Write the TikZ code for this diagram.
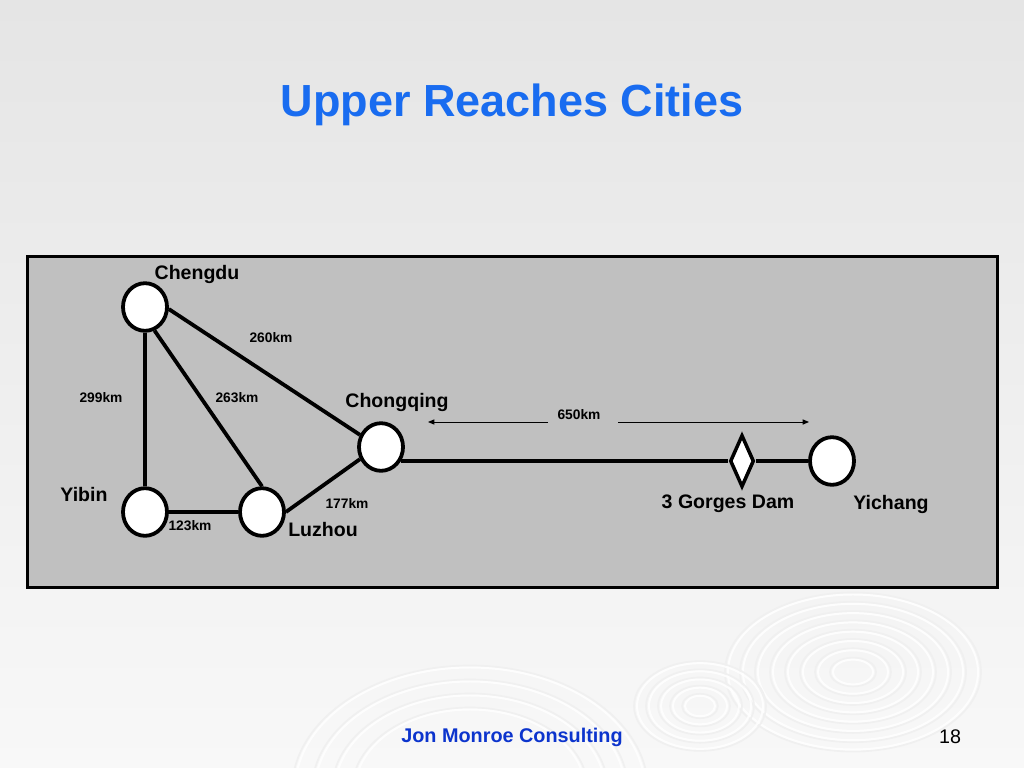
\documentclass[tikz,border=0pt]{standalone}
\usepackage{fontspec}
\setmainfont{Liberation Sans}
\usetikzlibrary{arrows.meta,positioning,shapes.geometric}
\definecolor{titleblue}{RGB}{25,108,240}
\definecolor{footblue}{RGB}{12,52,205}
\definecolor{panelgray}{RGB}{192,192,192}
\newcommand{\fsz}[1]{\fontsize{#1}{#1}\selectfont}

\begin{document}
\begin{tikzpicture}[x=0.025cm, y=-0.025cm,
    city/.style={ellipse, draw, line width=2.7pt, fill=white, minimum width=1.1cm, minimum height=1.19cm, inner sep=0pt},
    cityname/.style={font=\fsz{13.9}\bfseries},
    dist/.style={font=\fsz{9.8}\bfseries},
    edge/.style={line width=2.7pt},
    dimarrow/.style={-{Triangle[length=1.6mm, width=1.3mm]}, line width=0.7pt},
    ripple/.style={draw=white, line width=1.4pt, opacity=0.85},
    ripplegray/.style={draw=black!6, line width=1.2pt}
]
    % Slide background
    \shade[top color={rgb,255:red,229;green,229;blue,229}, bottom color={rgb,255:red,248;green,248;blue,248}]
        (0,0) rectangle (1024,768);
    \useasboundingbox (0,0) rectangle (1024,768);
    \begin{scope}
        \clip (0,0) rectangle (1024,768);
        \foreach \r in {20,35,...,125} {
            \draw[ripplegray] (853,672) circle[x radius=\r+3, y radius=0.62*\r+2];
            \draw[ripple] (853,672) circle[x radius=\r, y radius=0.62*\r];
        }
        \foreach \r in {15,27,...,72} {
            \draw[ripplegray] (700,706) circle[x radius=\r+3, y radius=0.68*\r+2];
            \draw[ripple] (700,706) circle[x radius=\r, y radius=0.68*\r];
        }
        \foreach \r in {115,135,...,175} {
            \draw[ripplegray] (470,790) circle[x radius=\r+3, y radius=0.7*\r+2];
            \draw[ripple] (470,790) circle[x radius=\r, y radius=0.7*\r];
        }
    \end{scope}

    % Title
    \node[font=\fsz{32}\bfseries, text=titleblue, anchor=base] (title) at (512,117) {Upper Reaches Cities};

    % Map panel
    \draw[line width=2.5pt, fill=panelgray] (27.5,256.5) rectangle (997.5,587.5);

    % Cities
    \node[city] (cd) at (145,307) {};
    \node[city] (yb) at (145,512) {};
    \node[city] (lz) at (262,512) {};
    \node[city] (cq) at (381,447) {};
    \node[city] (yc) at (832,461) {};
    \node[diamond, draw, line width=2.5pt, fill=white, inner sep=0pt, minimum width=0.6cm, minimum height=1.3cm] (dam) at (742,461) {};

    % City names
    \node[cityname] (cdname) at (197,274) {Chengdu};
    \node[cityname] (cqname) at (397,402) {Chongqing};
    \node[cityname] (ybname) at (84,495) {Yibin};
    \node[cityname] (lzname) at (323,530) {Luzhou};
    \node[cityname] (damname) at (728,504) {3 Gorges Dam};
    \node[cityname] (ycname) at (891,504) {Yichang};

    % Roads
    \draw[edge] (cd) -- (yb);
    \draw[edge] (cd.-68) -- (lz.north);
    \draw[edge] (cd.-5) -- (cq.150);
    \draw[edge] (yb) -- (lz);
    \draw[edge] (lz.east) -- (cq.210);
    \draw[edge] (dam.west -| cq.-35) -- (dam.west);
    \draw[edge] (dam.east) -- (yc.west);

    % Distances
    \node[dist] (d260) at (271,338) {260km};
    \node[dist] (d299) at (101,398) {299km};
    \node[dist] (d263) at (237,398) {263km};
    \node[dist] (d177) at (347,504) {177km};
    \node[dist] (d123) at (190,526) {123km};
    \node[dist] (d650) at (579,415) {650km};

    % River length arrows
    \coordinate (al) at (548,422);
    \coordinate (altip) at (428,422);
    \coordinate (ar) at (618,422);
    \coordinate (artip) at (809,422);
    \draw[dimarrow] (al) -- (altip);
    \draw[dimarrow] (ar) -- (artip);

    % Footer
    \node[font=\fsz{14.1}\bfseries, text=footblue] (footer) at (512,737) {Jon Monroe Consulting};
    \node[font=\fsz{14}] (pageno) at (950,737) {18};
\end{tikzpicture}
\end{document}
